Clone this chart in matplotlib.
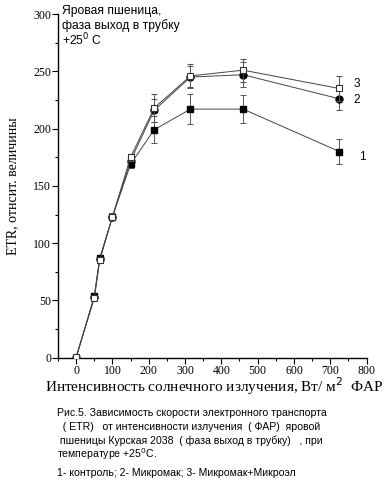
import matplotlib
matplotlib.use("Agg")
import matplotlib.pyplot as plt
from matplotlib.ticker import MultipleLocator

# light intensity, W/m2 PAR
light = [0, 50, 65, 100, 150, 215, 315, 460, 725]

# 1 - control
etr1 = [0, 54, 87, 123, 169, 199, 217, 217, 180]
err1 = [1, 2, 2, 3, 3, 12, 13, 12, 11]
# 2 - Mikromak
etr2 = [0, 53, 86, 123, 172, 216, 245, 247, 226]
err2 = [1, 2, 2, 3, 3, 10, 10, 11, 10]
# 3 - Mikromak+Mikroel
etr3 = [1, 52, 85, 123, 175, 218, 246, 251, 235]
err3 = [1, 2, 2, 3, 3, 12, 10, 10, 11]

xticks = [0, 100, 200, 300, 400, 500, 600, 700, 800]
yticks = [0, 50, 100, 150, 200, 250, 300]

serif = "Liberation Serif"
sans = "Liberation Sans"

fig = plt.figure(figsize=(3.85, 4.95), dpi=100)
ax = fig.add_axes([0.1506, 0.2772, 0.8015, 0.6945])

ekw = dict(ecolor="#555555", elinewidth=0.7, capsize=2.5, capthick=0.7)
ax.errorbar(light, etr1, yerr=err1, color="#444444", lw=0.7, marker="s", ms=5,
            mfc="black", mec="black", **ekw, zorder=3)
ax.errorbar(light, etr2, yerr=err2, color="#444444", lw=0.7, marker="o", ms=5,
            mfc="black", mec="black", **ekw, zorder=3)
ax.errorbar(light, etr3, yerr=err3, color="#444444", lw=0.7, marker="s", ms=5,
            mfc="white", mec="#333333", mew=0.8, **ekw, zorder=4)

ax.set_xlim(-50, 800)
ax.set_ylim(0, 300)
ax.set_xticks(xticks)
ax.set_yticks(yticks)
ax.xaxis.set_minor_locator(MultipleLocator(50))
ax.yaxis.set_minor_locator(MultipleLocator(25))
ax.tick_params(direction="out", length=4, width=0.8, labelsize=8.5, pad=1)
ax.tick_params(which="minor", direction="out", length=2.5, width=0.8)
for lab in ax.get_xticklabels() + ax.get_yticklabels():
    lab.set_fontfamily(serif)
ax.spines["top"].set_visible(False)
ax.spines["right"].set_visible(False)
ax.spines["left"].set_linewidth(1.0)
ax.spines["bottom"].set_linewidth(1.0)

ax.set_xlabel("Интенсивность солнечного излучения, Вт/ м$^2$  ФАР",
              fontfamily=serif, fontsize=11, labelpad=-1, x=0.505)
ax.set_ylabel("ETR, отнсит. величины", fontfamily=serif, fontsize=10, labelpad=10)

note = ["Яровая пшеница,", "фаза выход в трубку", "+25$^0$ C"]
for i, line in enumerate(note):
    fig.text(62 / 385, 1 - (14 + 15.5 * i) / 495, line,
             fontfamily=sans, fontsize=8.7, va="baseline", ha="left")

ax.text(763, 239, "3", fontfamily=sans, fontsize=8.5, va="center")
ax.text(763, 225, "2", fontfamily=sans, fontsize=8.5, va="center")
ax.text(780, 175, "1", fontfamily=sans, fontsize=8.5, va="center")

caption = ["Рис.5. Зависимость скорости электронного транспорта",
           "  ( ETR)   от интенсивности излучения  ( ФАР)  яровой",
           " пшеницы Курская 2038  ( фаза выход в трубку)   , при",
           "температуре +25$^0$C."]
for i, line in enumerate(caption):
    fig.text(57 / 385, 1 - (416 + 14 * i) / 495, line, fontfamily=sans,
             fontsize=7.6, va="baseline", ha="left")
fig.text(57 / 385, 1 - 476 / 495, "1- контроль; 2- Микромак; 3- Микромак+Микроэл",
         fontfamily=sans, fontsize=7.6, va="baseline", ha="left")

fig.savefig("out.png", dpi=100)
